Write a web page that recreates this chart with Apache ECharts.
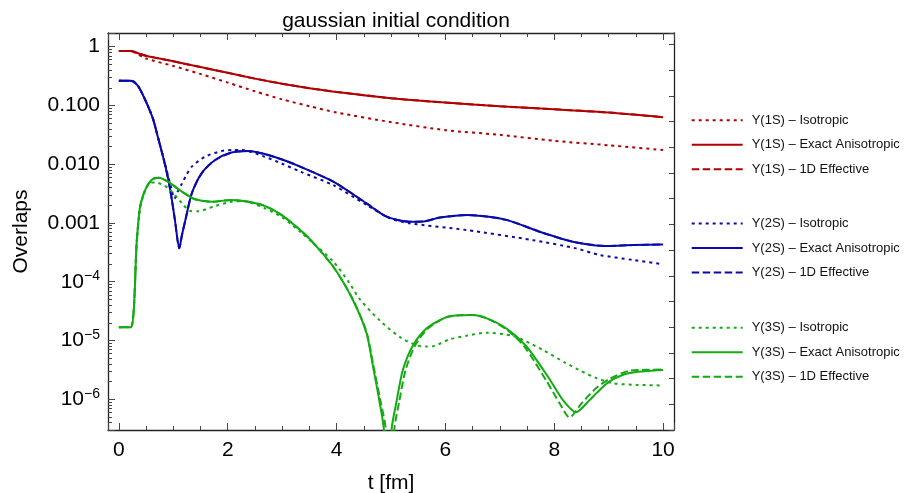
<!DOCTYPE html>
<html>
<head>
<meta charset="utf-8">
<script src="https://cdn.jsdelivr.net/npm/echarts@6/dist/echarts.min.js"></script>
<style>
  html, body { margin: 0; padding: 0; background: #fff; }
  #chart { width: 905px; height: 493px; }
</style>
</head>
<body>
<div id="chart"></div>
<script>
// overlaps vs t [fm]
const tRed = [0, 0.2, 0.25, 0.5, 1.0, 1.5, 2.0, 2.5, 3.0, 3.5, 4.0, 5.0, 6.0, 7.0, 8.0, 9.0, 10.0];
const red1SIso = [0.845, 0.845, 0.83, 0.63, 0.47, 0.343, 0.245, 0.174, 0.127, 0.097, 0.076, 0.052, 0.038, 0.0316, 0.025, 0.021, 0.0174];
const red1SExact = [0.845, 0.845, 0.835, 0.70, 0.564, 0.45, 0.359, 0.286, 0.234, 0.197, 0.17, 0.133, 0.112, 0.0966, 0.086, 0.0759, 0.063];
const red1SEff = [0.845, 0.845, 0.835, 0.70, 0.564, 0.45, 0.359, 0.286, 0.234, 0.197, 0.17, 0.133, 0.112, 0.0966, 0.086, 0.0759, 0.063];

const tBlue = [0, 0.2, 0.27, 0.36, 0.45, 0.54, 0.63, 0.73, 0.82, 0.91, 0.97, 1.03, 1.11, 1.16, 1.22, 1.34, 1.52, 1.77, 2.07, 2.38, 2.68, 3.0, 3.33, 3.94, 4.55, 4.92, 5.34, 5.6, 5.9, 6.4, 7.12, 7.73, 8.34, 8.95, 9.44, 10];
const blue2SExact = [0.264, 0.264, 0.255, 0.209, 0.145, 0.095, 0.058, 0.026, 0.0125, 0.0054, 0.0026, 0.00112, 0.00037, 0.00063, 0.0011, 0.0032, 0.0070, 0.0118, 0.0158, 0.0168, 0.0149, 0.0120, 0.0091, 0.00505, 0.00216, 0.00128, 0.00105, 0.00106, 0.00124, 0.00137, 0.00113, 0.00071, 0.00048, 0.000407, 0.00042, 0.00043];
const blue2SEff = [0.264, 0.264, 0.255, 0.209, 0.145, 0.095, 0.058, 0.026, 0.0125, 0.0054, 0.0026, 0.00112, 0.00037, 0.00063, 0.0011, 0.0032, 0.0070, 0.0118, 0.0158, 0.0168, 0.0149, 0.0120, 0.0091, 0.00505, 0.00216, 0.00128, 0.00105, 0.00106, 0.00124, 0.00137, 0.00113, 0.00071, 0.00048, 0.000407, 0.00042, 0.00043];

const tBlueIso = [0, 0.2, 0.27, 0.36, 0.45, 0.54, 0.63, 0.73, 0.82, 0.91, 0.97, 1.02, 1.08, 1.16, 1.25, 1.34, 1.58, 1.89, 2.1, 2.26, 2.68, 3.0, 3.33, 3.94, 4.55, 4.98, 5.34, 6.38, 7.61, 8.4, 8.83, 9.44, 10];
const blue2SIso = [0.264, 0.264, 0.255, 0.209, 0.145, 0.095, 0.058, 0.026, 0.0128, 0.0060, 0.0037, 0.0026, 0.0034, 0.0047, 0.0068, 0.0091, 0.0134, 0.0168, 0.0175, 0.0175, 0.0134, 0.0102, 0.0075, 0.0044, 0.00203, 0.0012, 0.00099, 0.00076, 0.00051, 0.00037, 0.000286, 0.000235, 0.000198];

const tGreen = [0, 0.22, 0.33, 0.39, 0.48, 0.61, 0.73, 0.91, 1.16, 1.4, 1.71, 2.07, 2.38, 2.68, 3.0, 3.33, 3.51, 3.94, 4.3, 4.55, 4.67, 4.79, 4.87, 4.94, 5.01, 5.1, 5.22, 5.41, 5.65, 6.02, 6.32, 6.5, 6.75, 7.12, 7.49, 7.9, 8.16, 8.4, 8.65, 8.77, 9.01, 9.38, 10];
const green3SExact = [1.68e-5, 1.68e-5, 5.1e-4, 0.0019, 0.0036, 0.0055, 0.0059, 0.0050, 0.0034, 0.00253, 0.0023, 0.00246, 0.0023, 0.00195, 0.00135, 0.00076, 0.00053, 0.00018, 4.9e-5, 1.33e-5, 3.6e-6, 9e-7, 3e-7, 2e-9, 3e-7, 9e-7, 3.2e-6, 8.5e-6, 1.6e-5, 2.5e-5, 2.7e-5, 2.72e-5, 2.4e-5, 1.6e-5, 7.9e-6, 2.3e-6, 9.7e-7, 6e-7, 9.7e-7, 1.26e-6, 2.0e-6, 2.8e-6, 3.16e-6];

const tGreenEff = [0, 0.22, 0.33, 0.39, 0.48, 0.61, 0.73, 0.91, 1.16, 1.4, 1.71, 2.07, 2.38, 2.68, 3.0, 3.33, 3.51, 3.94, 4.3, 4.55, 4.67, 4.8, 4.905, 4.98, 5.06, 5.15, 5.27, 5.45, 5.68, 6.02, 6.32, 6.5, 6.75, 7.12, 7.45, 7.85, 8.1, 8.28, 8.5, 8.77, 9.01, 9.38, 10];
const green3SEff = [1.68e-5, 1.68e-5, 5.1e-4, 0.0019, 0.0036, 0.0055, 0.0059, 0.0050, 0.0034, 0.00253, 0.0023, 0.00246, 0.0023, 0.00195, 0.00135, 0.00076, 0.00053, 0.00018, 5.0e-5, 1.4e-5, 4.0e-6, 1.0e-6, 3e-7, 2e-9, 3e-7, 9e-7, 3.2e-6, 8.5e-6, 1.6e-5, 2.5e-5, 2.7e-5, 2.72e-5, 2.4e-5, 1.55e-5, 7.9e-6, 2.1e-6, 8.5e-7, 4.9e-7, 8.5e-7, 1.55e-6, 2.2e-6, 3.05e-6, 3.2e-6];

const tGreenIso = [0, 0.22, 0.33, 0.39, 0.48, 0.56, 0.67, 0.91, 1.16, 1.31, 1.45, 1.77, 2.07, 2.3, 2.68, 3.0, 3.33, 3.94, 4.24, 4.43, 4.79, 5.16, 5.47, 5.65, 5.8, 6.08, 6.38, 6.75, 7.24, 7.55, 7.8, 8.2, 8.5, 8.77, 9.08, 9.5, 10];
const green3SIso = [1.68e-5, 1.68e-5, 5.1e-4, 0.0018, 0.0035, 0.0048, 0.0049, 0.0039, 0.00216, 0.0016, 0.00158, 0.00195, 0.0023, 0.00235, 0.00178, 0.00125, 0.00071, 0.00022, 9.4e-5, 5.0e-5, 2.2e-5, 1.15e-5, 8.3e-6, 7.9e-6, 8.1e-6, 1.05e-5, 1.2e-5, 1.36e-5, 1.2e-5, 9e-6, 6.8e-6, 4.2e-6, 3.0e-6, 2.3e-6, 1.87e-6, 1.76e-6, 1.72e-6];

const minorFactors = [2, 3, 4, 5, 6, 7, 8, 9];

const font = 'Liberation Sans, Arial, sans-serif';
const yMin = 3e-7, yMax = 1.71;
const RED = '#b00000', BLUE = '#0a0aaa', GREEN = '#14aa14';
const DOT = [3, 4], DASH = [7.5, 3.5];
const frame = { color: '#222', width: 1.3 };
const tickStyle = { color: '#444', width: 1 };

function pairs(ts, vs) {
    return ts.map((t, i) => [t, vs[i]]);
}

function line(name, color, type, ts, vs) {
    return {
        name: name,
        type: 'line',
        data: pairs(ts, vs),
        symbol: 'none',
        showSymbol: false,
        smooth: 0.25,
        clip: true,
        lineStyle: { color: color, width: 2, type: type },
        itemStyle: { color: color },
        emphasis: { disabled: true }
    };
}

const series = [
    line('Y(1S) – Isotropic', RED, DOT, tRed, red1SIso),
    line('Y(1S) – Exact Anisotropic', RED, 'solid', tRed, red1SExact),
    line('Y(1S) – 1D Effective', RED, DASH, tRed, red1SEff),
    line('Y(2S) – Isotropic', BLUE, DOT, tBlueIso, blue2SIso),
    line('Y(2S) – Exact Anisotropic', BLUE, 'solid', tBlue, blue2SExact),
    line('Y(2S) – 1D Effective', BLUE, DASH, tBlue, blue2SEff),
    line('Y(3S) – Isotropic', GREEN, DOT, tGreenIso, green3SIso),
    line('Y(3S) – Exact Anisotropic', GREEN, 'solid', tGreen, green3SExact),
    line('Y(3S) – 1D Effective', GREEN, DASH, tGreenEff, green3SEff)
];

function yLabel(v) {
    const lg = Math.log10(v);
    const e = Math.round(lg);
    if (Math.abs(lg - e) > 1e-6) return '';
    if (e === 0) return '1';
    if (e === -1) return '0.100';
    if (e === -2) return '0.010';
    if (e === -3) return '0.001';
    return '10{sup|\u2212' + (-e) + '}';
}

function xAxisCfg(pos) {
    return {
        type: 'value',
        position: pos,
        min: -0.2,
        max: 10.2,
        axisLine: { onZero: false, lineStyle: frame },
        axisTick: { inside: true, length: 7, lineStyle: tickStyle },
        minorTick: { show: true, splitNumber: 4, length: 4, lineStyle: tickStyle },
        splitLine: { show: false },
        axisLabel: {
            show: pos === 'bottom',
            margin: 10,
            fontSize: 21,
            fontFamily: font,
            color: '#000',
            showMinLabel: false,
            showMaxLabel: false,
            formatter: v => (Math.abs(v - Math.round(v)) < 1e-9 ? String(Math.round(v)) : '')
        },
        name: pos === 'bottom' ? 't [fm]' : '',
        nameLocation: 'middle',
        nameGap: 43,
        nameTextStyle: { fontSize: 21, fontFamily: font, color: '#000' }
    };
}

const yAxes = [{
    type: 'log',
    logBase: 10,
    position: 'left',
    min: yMin,
    max: yMax,
    axisLine: { onZero: false, lineStyle: frame },
    axisTick: { inside: true, length: 7, lineStyle: tickStyle },
    splitLine: { show: false },
    axisLabel: {
        margin: 8,
        fontSize: 21,
        fontFamily: font,
        color: '#000',
        formatter: yLabel,
        rich: {
            sup: { fontSize: 14, fontFamily: font, color: '#000', padding: [0, 0, 11, 0] }
        }
    },
    name: 'Overlaps',
    nameLocation: 'middle',
    nameRotate: 90,
    nameGap: 76,
    nameTextStyle: { fontSize: 21, fontFamily: font, color: '#000' }
}];

// minor ticks at m*10^k: extra hidden log axes shifted by each factor
minorFactors.forEach(m => {
    yAxes.push({
        type: 'log',
        logBase: 10,
        position: 'left',
        min: yMin / m,
        max: yMax / m,
        axisLine: { show: false, onZero: false },
        axisTick: { inside: true, length: 4, lineStyle: tickStyle },
        axisLabel: { show: false },
        splitLine: { show: false }
    });
});

// right frame with its evenly spaced ticks
yAxes.push({
    type: 'value',
    position: 'right',
    min: 0,
    max: 15.45,
    interval: 1,
    axisLine: { show: true, onZero: false, lineStyle: frame },
    axisTick: { inside: true, length: 5, lineStyle: tickStyle },
    axisLabel: { show: false },
    splitLine: { show: false }
});

const legendTops = [113.7, 217, 321.3];
const legends = legendTops.map((top, g) => ({
    data: series.slice(g * 3, g * 3 + 3).map(s => s.name),
    orient: 'vertical',
    left: 690.7,
    top: top,
    padding: 0,
    itemWidth: 51,
    itemHeight: 14,
    itemGap: 11.5,
    selectedMode: false,
    itemStyle: { opacity: 0, borderWidth: 0 },
    textStyle: { fontSize: 13, fontFamily: font, color: '#111', padding: [0, 0, 0, 4] }
}));

const chart = echarts.init(document.getElementById('chart'), null, { renderer: 'canvas' });
chart.setOption({
    animation: false,
    backgroundColor: '#fff',
    title: {
        text: 'gaussian initial condition',
        left: 391,
        textAlign: 'center',
        top: 6,
        textStyle: { fontSize: 21, fontWeight: 'normal', fontFamily: font, color: '#000' }
    },
    legend: legends,
    grid: { left: 108, right: 231, top: 33, bottom: 63, outerBoundsMode: 'none' },
    xAxis: [xAxisCfg('bottom'), xAxisCfg('top')],
    yAxis: yAxes,
    series: series
});
</script>
</body>
</html>
